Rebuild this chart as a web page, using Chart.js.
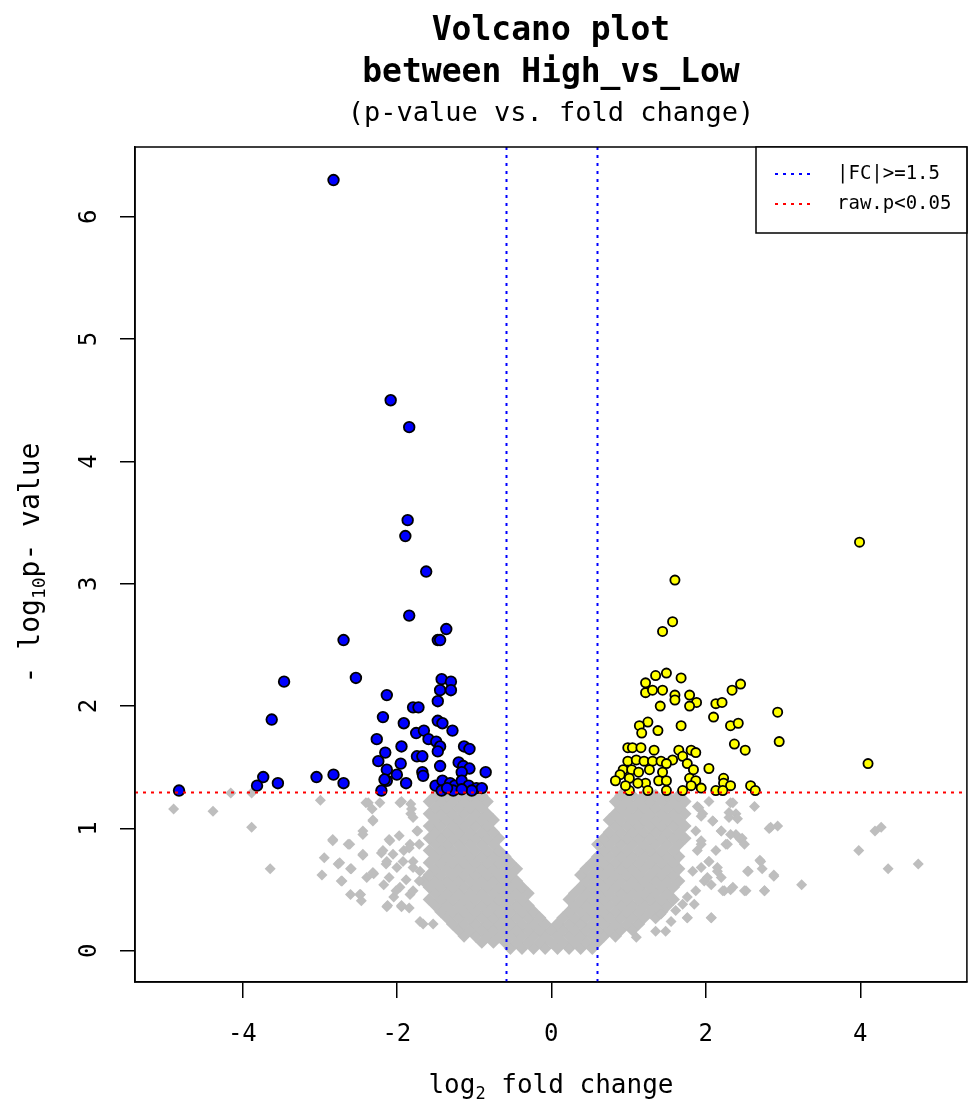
<!DOCTYPE html>
<html>
<head>
<meta charset="utf-8">
<script src="https://cdn.jsdelivr.net/npm/chart.js@4"></script>
<style>
  html, body { margin: 0; padding: 0; background: #fff; }
  #wrap { width: 974px; height: 1106px; }
</style>
</head>
<body>
<div id="wrap"><canvas id="volcano" width="974" height="1106"></canvas></div>
<script>
const xTicks = [-4, -2, 0, 2, 4];
const yTicks = [0, 1, 2, 3, 4, 5, 6];
const fcCutoff = 1.5;
const pCutoff = 0.05;

// significant, down (blue)
const downLogFC = [-2.82, -2.08, -1.84, -1.86, -1.89, -1.62, -1.84, -1.36, -1.47, -1.44, -2.69, -2.53, -3.46, -1.42, -1.30,
  -1.44, -1.30, -2.13, -1.47, -1.79, -1.72, -2.18, -3.62, -1.91, -1.47, -1.41, -1.28, -1.75, -1.65, -2.26, -1.59, -1.49,
  -1.44, -1.94, -1.13, -1.06, -1.47, -2.15, -1.74, -1.67, -2.24, -1.95, -1.44, -1.20, -1.14, -1.06, -2.13, -2.00, -1.67,
  -1.66, -0.85, -1.16, -3.73, -3.04, -2.82, -3.54, -2.69, -3.81, -2.13, -2.16, -1.88, -2.20, -4.82, -1.50, -1.41, -1.31,
  -1.25, -1.16, -1.07, -0.97, -0.90, -1.42, -1.27, -1.03, -1.35, -1.16];
const downLogP = [6.30, 4.50, 4.28, 3.52, 3.39, 3.10, 2.74, 2.63, 2.54, 2.54, 2.54, 2.23, 2.20, 2.22, 2.20,
  2.13, 2.13, 2.09, 2.04, 1.99, 1.99, 1.91, 1.89, 1.86, 1.88, 1.86, 1.80, 1.78, 1.80, 1.73, 1.73, 1.71,
  1.67, 1.67, 1.67, 1.65, 1.63, 1.62, 1.59, 1.59, 1.55, 1.53, 1.51, 1.54, 1.51, 1.49, 1.48, 1.44, 1.46,
  1.43, 1.46, 1.46, 1.42, 1.42, 1.44, 1.37, 1.37, 1.35, 1.39, 1.40, 1.37, 1.31, 1.31, 1.35, 1.39, 1.37,
  1.35, 1.39, 1.35, 1.33, 1.33, 1.31, 1.31, 1.31, 1.33, 1.32];

// significant, up (yellow)
const upLogFC = [3.99, 1.60, 1.57, 1.44, 1.35, 1.49, 1.68, 1.22, 2.45, 2.34, 1.22, 1.31, 1.44, 1.60, 1.60, 1.79,
  1.88, 1.79, 1.41, 2.13, 2.21, 2.93, 2.10, 1.68, 1.25, 1.14, 1.17, 1.38, 2.32, 2.42, 2.95, 2.37, 2.51, 4.10,
  0.99, 1.05, 1.16, 1.33, 1.65, 1.81, 1.87, 1.70, 1.57, 0.99, 1.10, 1.20, 1.31, 1.42, 1.49, 1.76, 0.93, 1.04,
  1.13, 1.27, 1.44, 1.84, 2.04, 0.89, 0.83, 1.01, 1.22, 1.39, 1.49, 1.79, 1.87, 1.81, 1.94, 2.23, 2.23, 2.32,
  2.58, 2.64, 1.01, 1.25, 1.49, 1.70, 2.13, 2.22, 0.96, 1.12];
const upLogP = [3.34, 3.03, 2.69, 2.61, 2.25, 2.27, 2.23, 2.19, 2.18, 2.13, 2.11, 2.13, 2.13, 2.09, 2.05, 2.09,
  2.03, 2.00, 2.00, 2.02, 2.03, 1.95, 1.91, 1.84, 1.87, 1.84, 1.78, 1.80, 1.84, 1.86, 1.71, 1.69, 1.64, 1.53,
  1.66, 1.66, 1.66, 1.64, 1.64, 1.64, 1.62, 1.59, 1.56, 1.55, 1.56, 1.55, 1.55, 1.55, 1.53, 1.53, 1.48, 1.48,
  1.46, 1.48, 1.46, 1.48, 1.49, 1.44, 1.39, 1.41, 1.37, 1.39, 1.39, 1.41, 1.39, 1.35, 1.33, 1.41, 1.37, 1.35,
  1.35, 1.31, 1.31, 1.31, 1.31, 1.31, 1.31, 1.31, 1.35, 1.37];

// not significant: dense core, one row of fold changes per p-value level
const grayCoreY = [0.02, 0.07, 0.12, 0.17, 0.22, 0.27, 0.32, 0.37, 0.42, 0.47, 0.52, 0.57, 0.62,
  0.67, 0.72, 0.77, 0.82, 0.87, 0.92, 0.97, 1.02, 1.07, 1.12, 1.17, 1.22, 1.27];
const grayCoreX = [
  [-0.53, -0.38, -0.23, -0.08, 0.08, 0.23, 0.38, 0.53],
  [-0.9, -0.75, -0.6, -0.45, -0.3, -0.15, 0, 0.15, 0.3, 0.45, 0.6],
  [-1.13, -0.98, -0.83, -0.68, -0.53, -0.38, -0.23, -0.08, 0.08, 0.23, 0.38, 0.53, 0.68, 0.83],
  [-1.2, -1.05, -0.9, -0.75, -0.6, -0.45, -0.3, -0.15, 0, 0.15, 0.3, 0.45, 0.6, 0.75, 0.9, 1.05],
  [-1.28, -1.13, -0.98, -0.83, -0.68, -0.53, -0.38, -0.23, -0.08, 0.08, 0.23, 0.38, 0.53, 0.68, 0.83, 0.98, 1.13],
  [-1.35, -1.2, -1.05, -0.9, -0.75, -0.6, -0.45, -0.3, -0.15, 0.15, 0.3, 0.45, 0.6, 0.75, 0.9, 1.05, 1.2, 1.35],
  [-1.43, -1.28, -1.13, -0.98, -0.83, -0.68, -0.53, -0.38, -0.23, 0.23, 0.38, 0.53, 0.68, 0.83, 0.98, 1.13, 1.28, 1.43],
  [-1.5, -1.35, -1.2, -1.05, -0.9, -0.75, -0.6, -0.45, -0.3, 0.3, 0.45, 0.6, 0.75, 0.9, 1.05, 1.2, 1.35, 1.5],
  [-1.58, -1.43, -1.28, -1.13, -0.98, -0.83, -0.68, -0.53, -0.38, 0.23, 0.38, 0.53, 0.68, 0.83, 0.98, 1.13, 1.28, 1.43, 1.58],
  [-1.5, -1.35, -1.2, -1.05, -0.9, -0.75, -0.6, -0.45, -0.3, 0.3, 0.45, 0.6, 0.75, 0.9, 1.05, 1.2, 1.35, 1.5],
  [-1.58, -1.43, -1.28, -1.13, -0.98, -0.83, -0.68, -0.53, -0.38, 0.38, 0.53, 0.68, 0.83, 0.98, 1.13, 1.28, 1.43, 1.58],
  [-1.65, -1.5, -1.35, -1.2, -1.05, -0.9, -0.75, -0.6, -0.45, 0.45, 0.6, 0.75, 0.9, 1.05, 1.2, 1.35, 1.5, 1.65],
  [-1.58, -1.43, -1.28, -1.13, -0.98, -0.83, -0.68, -0.53, 0.38, 0.53, 0.68, 0.83, 0.98, 1.13, 1.28, 1.43, 1.58],
  [-1.5, -1.35, -1.2, -1.05, -0.9, -0.75, -0.6, -0.45, 0.45, 0.6, 0.75, 0.9, 1.05, 1.2, 1.35, 1.5, 1.65],
  [-1.58, -1.43, -1.28, -1.13, -0.98, -0.83, -0.68, -0.53, 0.53, 0.68, 0.83, 0.98, 1.13, 1.28, 1.43, 1.58],
  [-1.5, -1.35, -1.2, -1.05, -0.9, -0.75, -0.6, 0.6, 0.75, 0.9, 1.05, 1.2, 1.35, 1.5, 1.65],
  [-1.58, -1.43, -1.28, -1.13, -0.98, -0.83, -0.68, 0.68, 0.83, 0.98, 1.13, 1.28, 1.43, 1.58],
  [-1.5, -1.35, -1.2, -1.05, -0.9, -0.75, 0.6, 0.75, 0.9, 1.05, 1.2, 1.35, 1.5, 1.65],
  [-1.58, -1.43, -1.28, -1.13, -0.98, -0.83, -0.68, 0.68, 0.83, 0.98, 1.13, 1.28, 1.43, 1.58, 1.73],
  [-1.5, -1.35, -1.2, -1.05, -0.9, -0.75, 0.75, 0.9, 1.05, 1.2, 1.35, 1.5, 1.65],
  [-1.58, -1.43, -1.28, -1.13, -0.98, -0.83, 0.83, 0.98, 1.13, 1.28, 1.43, 1.58, 1.73],
  [-1.5, -1.35, -1.2, -1.05, -0.9, -0.75, 0.75, 0.9, 1.05, 1.2, 1.35, 1.5, 1.65],
  [-1.58, -1.43, -1.28, -1.13, -0.98, -0.83, 0.83, 0.98, 1.13, 1.28, 1.43, 1.58, 1.73],
  [-1.5, -1.35, -1.2, -1.05, -0.9, 0.9, 1.05, 1.2, 1.35, 1.5, 1.65],
  [-1.58, -1.43, -1.28, -1.13, -0.98, -0.83, 0.83, 0.98, 1.13, 1.28, 1.43, 1.58, 1.73],
  [-1.5, -1.35, -1.2, -1.05, -0.9, 0.9, 1.05, 1.2, 1.35, 1.5, 1.65]
];

// not significant: scattered points outside the core (left side)
const grayLeftFC = [-4.89, -4.38, -3.88, -3.64, -4.15, -3.88, -2.99, -2.83, -2.94, -2.97, -2.76, -2.63, -2.60, -2.71,
  -2.60, -2.47, -2.46, -2.44, -2.44, -2.39, -2.30, -2.31, -2.37, -2.22, -2.13, -1.94, -2.17, -2.20, -2.09, -1.96,
  -1.81, -1.79, -1.74, -2.00, -2.13, -1.96, -1.83, -1.70, -1.53, -1.91, -1.79, -2.04, -1.83, -1.70,
  -2.40, -2.32, -1.94, -1.82, -1.82, -2.31, -2.44, -1.73, -2.10, -1.97, -2.18, -2.05, -1.84, -1.71, -2.14, -1.92,
  -1.79, -2.10, -1.88, -1.71, -2.01, -1.79, -1.84, -2.83, -2.61, -2.44, -2.74, -2.59, -2.31, -2.72, -2.48, -2.12,
  -1.94, -1.66];
const grayLeftP = [1.16, 1.14, 1.01, 0.67, 1.29, 1.29, 1.23, 0.91, 0.76, 0.62, 0.71, 0.87, 0.67, 0.57,
  0.46, 0.46, 0.41, 0.78, 0.95, 0.60, 0.63, 1.07, 1.21, 1.21, 0.36, 0.36, 0.54, 0.80, 0.90, 1.21,
  1.16, 1.09, 0.98, 0.68, 0.73, 0.52, 0.46, 0.24, 0.22, 0.82, 0.73, 0.44, 0.87, 0.65,
  1.21, 1.16, 1.22, 1.20, 1.12, 1.06, 0.98, 0.98, 0.91, 0.94, 0.82, 0.79, 0.84, 0.87, 0.71, 0.73,
  0.68, 0.60, 0.58, 0.57, 0.49, 0.49, 0.35, 0.90, 0.87, 0.79, 0.72, 0.67, 0.64, 0.57, 0.46, 0.37,
  0.37, 0.22];

// not significant: scattered points outside the core (right side)
const grayRightFC = [2.63, 2.32, 2.82, 2.93, 4.19, 4.27, 3.98, 4.36, 4.75, 3.24, 2.88, 2.76, 2.52, 2.55, 2.70, 2.73,
  2.32, 2.22, 2.07, 1.76, 1.48, 2.28, 2.20, 2.39, 2.47, 2.09, 2.30, 2.39, 1.96, 1.91, 2.04, 2.15, 2.04, 1.98,
  1.87, 2.13, 1.94, 1.87, 1.83, 1.70, 1.61, 1.35, 1.10,
  1.89, 1.94, 2.09, 2.30, 2.41, 2.35, 2.84, 2.20, 2.32, 2.45, 2.50, 2.26, 1.94, 1.89, 2.04, 2.15, 2.20, 1.94,
  2.02, 2.07, 2.24, 2.35, 2.50, 2.71, 2.54, 2.88, 2.76, 1.76, 1.85, 1.76, 2.07, 1.55, 1.42];
const grayRightP = [1.18, 1.21, 1.00, 1.02, 0.98, 1.01, 0.82, 0.67, 0.71, 0.54, 0.62, 0.49, 0.49, 0.65, 0.74, 0.67,
  0.50, 0.49, 0.27, 0.27, 0.16, 0.87, 0.98, 0.95, 0.92, 1.06, 1.09, 1.12, 1.12, 1.17, 1.22, 0.65, 0.73, 0.57,
  0.49, 0.82, 0.87, 0.98, 0.65, 0.38, 0.33, 0.16, 0.11,
  1.18, 1.10, 1.06, 1.13, 1.08, 1.21, 1.01, 0.98, 0.95, 0.91, 0.87, 0.87, 0.90, 0.82, 0.73, 0.68, 0.60, 0.68,
  0.60, 0.54, 0.49, 0.52, 0.49, 0.73, 0.65, 0.61, 0.49, 0.44, 0.38, 0.27, 0.27, 0.24, 0.30];

const toPoints = (xs, ys) => xs.map((x, i) => ({ x: x, y: ys[i] }));
const corePoints = [];
grayCoreY.forEach((y, r) => grayCoreX[r].forEach(x => corePoints.push({ x: x, y: y })));
const outerPoints = toPoints(grayLeftFC, grayLeftP).concat(toPoints(grayRightFC, grayRightP));

const mono = '"DejaVu Sans Mono", "Liberation Mono", monospace';

const rDecor = {
  id: 'rDecor',
  afterDatasetsDraw(chart) {
    const { ctx, chartArea: a, scales: { x, y } } = chart;
    ctx.save();
    ctx.beginPath();
    ctx.rect(a.left, a.top, a.right - a.left, a.bottom - a.top);
    ctx.clip();
    ctx.lineWidth = 2;
    ctx.setLineDash([3, 5]);
    ctx.strokeStyle = '#0000ff';
    [-Math.log2(fcCutoff), Math.log2(fcCutoff)].forEach(v => {
      const px = Math.round(x.getPixelForValue(v)) + 0.5;
      ctx.beginPath();
      ctx.moveTo(px, a.top);
      ctx.lineTo(px, a.bottom);
      ctx.stroke();
    });
    ctx.strokeStyle = '#ff0000';
    const py = Math.round(y.getPixelForValue(-Math.log10(pCutoff))) + 0.5;
    ctx.beginPath();
    ctx.moveTo(a.left, py);
    ctx.lineTo(a.right, py);
    ctx.stroke();
    ctx.restore();
  },
  afterDraw(chart) {
    const { ctx, chartArea: a, scales: { x, y } } = chart;
    const cx = (a.left + a.right) / 2;
    ctx.save();
    ctx.fillStyle = '#000';
    ctx.strokeStyle = '#000';

    // box
    ctx.lineWidth = 1.5;
    ctx.strokeRect(a.left, a.top, a.right - a.left, a.bottom - a.top);

    // legend
    const lx = 756, ly = a.top, lw = a.right - lx, lh = 86;
    ctx.fillStyle = '#fff';
    ctx.fillRect(lx, ly, lw, lh);
    ctx.strokeRect(lx, ly, lw, lh);
    ctx.lineWidth = 2;
    ctx.setLineDash([3, 5]);
    [['#0000ff', '|FC|>=' + fcCutoff, 27], ['#ff0000', 'raw.p<' + pCutoff, 57]].forEach(([c, t, dy]) => {
      ctx.strokeStyle = c;
      ctx.beginPath();
      ctx.moveTo(lx + 19, ly + dy);
      ctx.lineTo(lx + 57, ly + dy);
      ctx.stroke();
      ctx.fillStyle = '#000';
      ctx.font = '19px ' + mono;
      ctx.textAlign = 'left';
      ctx.textBaseline = 'middle';
      ctx.fillText(t, lx + 81, ly + dy);
    });
    ctx.setLineDash([]);

    // titles
    ctx.fillStyle = '#000';
    ctx.textAlign = 'center';
    ctx.textBaseline = 'middle';
    ctx.font = 'bold 33px ' + mono;
    ctx.fillText('Volcano plot', cx, 31);
    ctx.fillText('between High_vs_Low', cx, 73);
    ctx.font = '27px ' + mono;
    ctx.fillText('(p-value vs. fold change)', cx, 114);

    // tick labels
    ctx.font = '24px ' + mono;
    x.ticks.forEach(t => ctx.fillText(String(t.value), x.getPixelForValue(t.value), 1035));
    y.ticks.forEach(t => {
      ctx.save();
      ctx.translate(90, y.getPixelForValue(t.value));
      ctx.rotate(-Math.PI / 2);
      ctx.fillText(String(t.value), 0, 0);
      ctx.restore();
    });

    // axis titles with subscripts
    const drawSub = (parts, big, small) => {
      let w = 0;
      parts.forEach(p => { ctx.font = (p[1] ? small : big) + 'px ' + mono; w += ctx.measureText(p[0]).width; });
      let pos = -w / 2;
      ctx.textAlign = 'left';
      ctx.textBaseline = 'alphabetic';
      parts.forEach(p => {
        ctx.font = (p[1] ? small : big) + 'px ' + mono;
        ctx.fillText(p[0], pos, p[1] ? 6 : 0);
        pos += ctx.measureText(p[0]).width;
      });
    };
    ctx.save();
    ctx.translate(cx, 1093);
    drawSub([['log', 0], ['2', 1], [' fold change', 0]], 26, 17);
    ctx.restore();
    ctx.save();
    ctx.translate(39, 563);
    ctx.rotate(-Math.PI / 2);
    drawSub([['- log', 0], ['10', 1], ['p- value', 0]], 28, 18);
    ctx.restore();

    ctx.restore();
  }
};

new Chart(document.getElementById('volcano'), {
  type: 'scatter',
  data: {
    datasets: [
      {
        label: 'up',
        data: toPoints(upLogFC, upLogP),
        pointStyle: 'circle',
        pointRadius: 4.6,
        pointBackgroundColor: '#ffff00',
        pointBorderColor: '#000',
        pointBorderWidth: 1.8
      },
      {
        label: 'down',
        data: toPoints(downLogFC, downLogP),
        pointStyle: 'circle',
        pointRadius: 5.3,
        pointBackgroundColor: '#0000ff',
        pointBorderColor: '#000',
        pointBorderWidth: 1.8
      },
      {
        label: 'ns',
        data: outerPoints,
        pointStyle: 'rectRot',
        pointRadius: 5.5,
        pointBackgroundColor: '#bebebe',
        pointBorderWidth: 0
      },
      {
        label: 'ns core',
        data: corePoints,
        pointStyle: 'rectRot',
        pointRadius: 6.6,
        pointBackgroundColor: '#bebebe',
        pointBorderWidth: 0
      }
    ]
  },
  options: {
    responsive: false,
    devicePixelRatio: 1,
    animation: false,
    layout: { padding: { left: 0, top: 147, right: 6, bottom: 0 } },
    plugins: { legend: { display: false }, tooltip: { enabled: false }, title: { display: false } },
    scales: {
      x: {
        type: 'linear',
        min: -5.39,
        max: 5.38,
        afterBuildTicks: s => { s.ticks = xTicks.map(v => ({ value: v })); },
        afterFit: s => { s.height = 124; },
        ticks: { display: false },
        grid: { drawOnChartArea: false, drawTicks: true, tickLength: 16, color: '#000', lineWidth: 1.5 },
        border: { display: true, color: '#000', width: 1.5 }
      },
      y: {
        type: 'linear',
        min: -0.255,
        max: 6.57,
        afterBuildTicks: s => { s.ticks = yTicks.map(v => ({ value: v })); },
        afterFit: s => { s.width = 135; },
        ticks: { display: false },
        grid: { drawOnChartArea: false, drawTicks: true, tickLength: 15, color: '#000', lineWidth: 1.5 },
        border: { display: true, color: '#000', width: 1.5 }
      }
    }
  },
  plugins: [rDecor]
});
</script>
</body>
</html>
